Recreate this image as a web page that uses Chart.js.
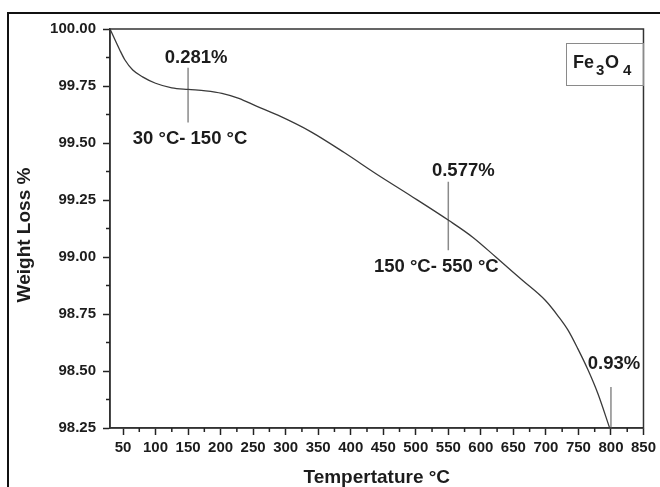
<!DOCTYPE html>
<html>
<head>
<meta charset="utf-8">
<script src="https://cdn.jsdelivr.net/npm/chart.js@4/dist/chart.umd.min.js"></script>
<style>
  html, body { margin: 0; padding: 0; background: #fff; }
  #wrap { width: 660px; height: 487px; }
</style>
</head>
<body>
<div id="wrap"><canvas id="tga" width="660" height="487"></canvas></div>
<script>
// --- data (temperature °C, weight %) ---
const temps = [30, 45, 53, 65, 80, 100, 125, 150, 177, 202, 228, 255, 288, 339, 390,
               440, 491, 551, 587, 623, 663, 699, 719, 734, 749, 765, 780, 798];
const weights = [100.0, 99.908, 99.864, 99.82, 99.79, 99.762, 99.742, 99.735, 99.729, 99.718,
                 99.696, 99.662, 99.622, 99.549, 99.458, 99.363, 99.271, 99.16, 99.088,
                 99.0, 98.9, 98.81, 98.74, 98.679, 98.598, 98.503, 98.4, 98.25];

const xTicks = [50, 100, 150, 200, 250, 300, 350, 400, 450, 500, 550, 600, 650, 700, 750, 800, 850];
const yTicks = [98.25, 98.5, 98.75, 99.0, 99.25, 99.5, 99.75, 100.0];

// marker lines for the three loss steps
const markTemps   = [150, 550, 800];
const markTops    = [99.83, 99.33, 98.43];
const markBottoms = [99.59, 99.03, 98.25];
const markLosses  = ['0.281%', '0.577%', '0.93%'];
const markRanges  = ['30 °C- 150 °C', '150 °C- 550 °C', ''];

const FONT = "'Liberation Sans', Arial, sans-serif";
const INK = '#1c1c1c';

const curve = temps.map((t, i) => ({ x: t, y: weights[i] }));
const markSets = markTemps.map((t, i) => ({
  data: [{ x: t, y: markTops[i] }, { x: t, y: markBottoms[i] }],
  borderColor: '#8a8a8a',
  borderWidth: 1.5,
  pointRadius: 0,
  tension: 0,
}));

// label offsets relative to marker line ends (px)
const lossOffsets  = [[8, -10], [15, -11], [3, -23]];
const rangeOffsets = [[2, 16], [-12, 17], [0, 0]];

const decor = {
  id: 'decor',
  beforeDraw(chart) {
    const ctx = chart.ctx;
    ctx.save();
    ctx.fillStyle = '#fff';
    ctx.fillRect(0, 0, chart.width, chart.height);
    // outer frame
    ctx.strokeStyle = '#111';
    ctx.lineWidth = 2;
    ctx.strokeRect(8, 13, 700, 520);
    ctx.restore();
  },
  afterDraw(chart) {
    const ctx = chart.ctx;
    const a = chart.chartArea;
    const xs = chart.scales.x, ys = chart.scales.y;
    ctx.save();

    // plot box
    ctx.strokeStyle = '#333';
    ctx.lineWidth = 1.5;
    ctx.strokeRect(a.left, a.top, a.right - a.left, a.bottom - a.top);

    // minor ticks
    ctx.strokeStyle = '#222';
    ctx.lineWidth = 1.5;
    ctx.beginPath();
    for (let i = 0; i < xTicks.length - 1; i++) {
      const px = xs.getPixelForValue((xTicks[i] + xTicks[i + 1]) / 2);
      ctx.moveTo(px, a.bottom);
      ctx.lineTo(px, a.bottom + 4);
    }
    for (let i = 0; i < yTicks.length - 1; i++) {
      const py = ys.getPixelForValue((yTicks[i] + yTicks[i + 1]) / 2);
      ctx.moveTo(a.left, py);
      ctx.lineTo(a.left - 4, py);
    }
    ctx.stroke();

    // y axis title (sits a little below the plot centre in the original)
    ctx.fillStyle = INK;
    ctx.font = `bold 19px ${FONT}`;
    ctx.textAlign = 'center';
    ctx.textBaseline = 'middle';
    ctx.save();
    ctx.translate(25, 235);
    ctx.rotate(-Math.PI / 2);
    ctx.fillText('Weight Loss %', 0, 0);
    ctx.restore();

    // step labels
    ctx.font = `bold 18.5px ${FONT}`;
    markTemps.forEach((t, i) => {
      const px = xs.getPixelForValue(t);
      const top = ys.getPixelForValue(markTops[i]);
      const bot = ys.getPixelForValue(markBottoms[i]);
      ctx.fillText(markLosses[i], px + lossOffsets[i][0], top + lossOffsets[i][1]);
      if (markRanges[i]) {
        ctx.fillText(markRanges[i], px + rangeOffsets[i][0], bot + rangeOffsets[i][1]);
      }
    });

    // Fe3O4 key box
    ctx.strokeStyle = '#8a8a8a';
    ctx.lineWidth = 1;
    ctx.strokeRect(566.5, 43.5, 77, 42);
    ctx.textAlign = 'left';
    ctx.textBaseline = 'alphabetic';
    ctx.font = `bold 18px ${FONT}`;
    ctx.fillText('Fe', 573, 68);
    ctx.font = `bold 15px ${FONT}`;
    ctx.fillText('3', 596, 75);
    ctx.font = `bold 18px ${FONT}`;
    ctx.fillText('O', 605, 68);
    ctx.font = `bold 15px ${FONT}`;
    ctx.fillText('4', 623, 75);

    ctx.restore();
  }
};

new Chart(document.getElementById('tga'), {
  type: 'line',
  data: {
    datasets: [{
      data: curve,
      borderColor: '#3a3a3a',
      borderWidth: 1.3,
      pointRadius: 0,
      cubicInterpolationMode: 'monotone',
    }, ...markSets],
  },
  options: {
    responsive: false,
    animation: false,
    layout: { padding: { left: 0, right: 10, top: 29, bottom: 0 } },
    plugins: { legend: { display: false }, tooltip: { enabled: false } },
    scales: {
      x: {
        type: 'linear',
        min: 30,
        max: 850,
        afterBuildTicks: s => { s.ticks = xTicks.map(v => ({ value: v })); },
        afterFit: s => { s.height = 59; },
        ticks: {
          color: INK, padding: 4, maxRotation: 0, autoSkip: false,
          font: { family: FONT, size: 15, weight: 'bold' },
        },
        grid: { drawOnChartArea: false, tickLength: 7, tickColor: '#222', tickWidth: 1.5 },
        border: { color: '#333', width: 1.5 },
        title: {
          display: true, text: 'Tempertature °C', color: INK,
          font: { family: FONT, size: 19, weight: 'bold' },
          padding: { top: 0, bottom: -2 },
        },
      },
      y: {
        min: 98.25,
        max: 100,
        afterBuildTicks: s => { s.ticks = yTicks.map(v => ({ value: v })); },
        afterFit: s => { s.width = 110; },
        ticks: {
          color: INK, padding: 7,
          font: { family: FONT, size: 15, weight: 'bold' },
          callback: v => v.toFixed(2),
        },
        grid: { drawOnChartArea: false, tickLength: 7, tickColor: '#222', tickWidth: 1.5 },
        border: { color: '#333', width: 1.5 },
        title: { display: false },
      },
    },
  },
  plugins: [decor],
});
</script>
</body>
</html>
